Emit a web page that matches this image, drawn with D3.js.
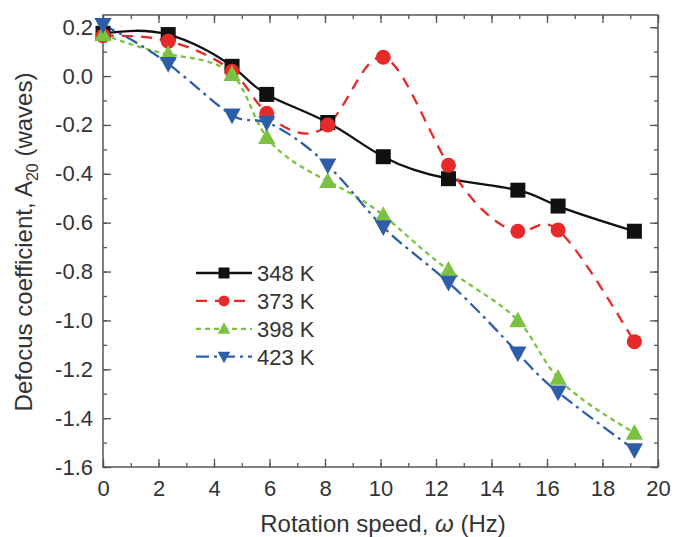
<!DOCTYPE html>
<html>
<head>
<meta charset="utf-8">
<script src="https://cdn.jsdelivr.net/npm/d3@7"></script>
<style>
  body { margin: 0; background: #fff; }
  text { font-family: "Liberation Sans", Arial, sans-serif; fill: #333; }
</style>
</head>
<body>
<div id="chart"></div>
<script>
// data
var speed = [0, 2.35, 4.65, 5.9, 8.1, 10.1, 12.45, 14.95, 16.4, 19.15];
var a348 = [0.175, 0.17, 0.04, -0.075, -0.19, -0.33, -0.42, -0.467, -0.532, -0.635];
var a373 = [0.165, 0.143, 0.02, -0.152, -0.2, 0.077, -0.365, -0.635, -0.63, -1.087];
var a398 = [0.17, 0.09, 0.007, -0.25, -0.43, -0.57, -0.794, -1.0, -1.236, -1.461];
var a423 = [0.21, 0.05, -0.16, -0.19, -0.365, -0.618, -0.845, -1.134, -1.294, -1.53];
var seriesNames = ["348 K", "373 K", "398 K", "423 K"];
var xTicks = [0, 2, 4, 6, 8, 10, 12, 14, 16, 18, 20];
var yTicks = [0.2, 0.0, -0.2, -0.4, -0.6, -0.8, -1.0, -1.2, -1.4, -1.6];

var width = 690, height = 537;
var margin = {left: 103, top: 15, right: 32, bottom: 70};
var innerW = width - margin.left - margin.right;
var innerH = height - margin.top - margin.bottom;

var series = [
  {name: seriesNames[0], values: a348, color: "#111111", dash: null, shape: d3.symbolSquare},
  {name: seriesNames[1], values: a373, color: "#e62a2a", dash: "11,8", shape: d3.symbolCircle},
  {name: seriesNames[2], values: a398, color: "#7cc242", dash: "5,4", shape: "up"},
  {name: seriesNames[3], values: a423, color: "#2f5ea8", dash: "13,5,3,5", shape: "down"}
];

var svg = d3.select("#chart").append("svg")
  .attr("width", width)
  .attr("height", height);

var g = svg.append("g")
  .attr("transform", "translate(" + margin.left + "," + margin.top + ")");

var x = d3.scaleLinear().domain([0, 20]).range([0, innerW]);
var y = d3.scaleLinear().domain([-1.6, 0.25]).range([innerH, 0]);

var xMinor = d3.range(0, 21, 1);
var yMinor = d3.range(-16, 3, 1).map(d => d / 10);

// axes, ticks inward on all four sides
function addAxis(axis, tr) {
  var a = g.append("g").attr("transform", tr).call(axis);
  a.select(".domain").remove();
  a.selectAll("line").attr("stroke", "#555").attr("stroke-width", 1.3);
  return a;
}
addAxis(d3.axisBottom(x).tickValues(xMinor).tickSize(-4).tickFormat(""), "translate(0," + innerH + ")");
addAxis(d3.axisTop(x).tickValues(xMinor).tickSize(-4).tickFormat(""), "translate(0,0)");
addAxis(d3.axisLeft(y).tickValues(yMinor).tickSize(-4).tickFormat(""), "translate(0,0)");
addAxis(d3.axisRight(y).tickValues(yMinor).tickSize(-4).tickFormat(""), "translate(" + innerW + ",0)");

var xAx = addAxis(d3.axisBottom(x).tickValues(xTicks).tickSize(-8).tickPadding(13).tickFormat(d3.format("d")), "translate(0," + innerH + ")");
addAxis(d3.axisTop(x).tickValues(xTicks).tickSize(-8).tickFormat(""), "translate(0,0)");
var yAx = addAxis(d3.axisLeft(y).tickValues(yTicks).tickSize(-8).tickPadding(10).tickFormat(d3.format(".1f")), "translate(0,0)");
addAxis(d3.axisRight(y).tickValues(yTicks).tickSize(-8).tickFormat(""), "translate(" + innerW + ",0)");

xAx.selectAll("text").style("font-size", "22px").attr("fill", "#333")
  .style("font-family", "Liberation Sans, Arial, sans-serif");
yAx.selectAll("text").style("font-size", "22px").attr("fill", "#333")
  .style("font-family", "Liberation Sans, Arial, sans-serif")
  .text(d => d3.format(".1f")(d).replace("−", "-"));

g.append("rect")
  .attr("width", innerW).attr("height", innerH)
  .attr("fill", "none").attr("stroke", "#555").attr("stroke-width", 1.5);

// lines
var line = d3.line()
  .x((d, i) => x(speed[i]))
  .y(d => y(d))
  .curve(d3.curveNatural);

function marker(sel, shape, size) {
  if (shape === "up" || shape === "down") {
    var h = size, w = size * 1.15;
    var s = shape === "up" ? 1 : -1;
    sel.append("path").attr("d", "M0," + (-s * h * 0.6) + "L" + (w / 2) + "," + (s * h * 0.45) + "L" + (-w / 2) + "," + (s * h * 0.45) + "Z");
  } else {
    var area = shape === d3.symbolSquare ? size * size : Math.PI * (size / 2) * (size / 2);
    sel.append("path").attr("d", d3.symbol().type(shape).size(area)());
  }
}

series.forEach(function (s) {
  g.append("path")
    .datum(s.values)
    .attr("d", line)
    .attr("fill", "none")
    .attr("stroke", s.color)
    .attr("stroke-width", 2.3)
    .attr("stroke-dasharray", s.dash);
});

series.forEach(function (s) {
  g.selectAll(null)
    .data(s.values)
    .enter()
    .append("g")
    .attr("transform", (d, i) => "translate(" + x(speed[i]) + "," + y(d) + ")")
    .attr("fill", s.color)
    .each(function () { marker(d3.select(this), s.shape, 15); });
});

// legend
var legend = svg.append("g").attr("transform", "translate(196,273)");
series.forEach(function (s, i) {
  var row = legend.append("g").attr("transform", "translate(0," + (i * 27.9) + ")");
  row.append("line")
    .attr("x1", 0).attr("x2", 56).attr("y1", 0).attr("y2", 0)
    .attr("stroke", s.color).attr("stroke-width", 2.3)
    .attr("stroke-dasharray", s.dash);
  var m = row.append("g").attr("transform", "translate(28,0)").attr("fill", s.color);
  marker(m, s.shape, 11);
  row.append("text")
    .attr("x", 61).attr("y", 8)
    .style("font-size", "22px")
    .text(s.name);
});

// axis titles
var xt = svg.append("text")
  .attr("x", 383)
  .attr("y", 532)
  .attr("text-anchor", "middle")
  .style("font-size", "24px");
xt.append("tspan").text("Rotation speed, ");
xt.append("tspan").style("font-style", "italic").text("ω");
xt.append("tspan").text(" (Hz)");

var yt = svg.append("text")
  .attr("transform", "translate(32,242) rotate(-90)")
  .attr("text-anchor", "middle")
  .style("font-size", "24px");
yt.append("tspan").text("Defocus coefficient, A");
yt.append("tspan").attr("dy", 6).style("font-size", "16px").text("20");
yt.append("tspan").attr("dy", -6).text(" (waves)");
</script>
</body>
</html>
